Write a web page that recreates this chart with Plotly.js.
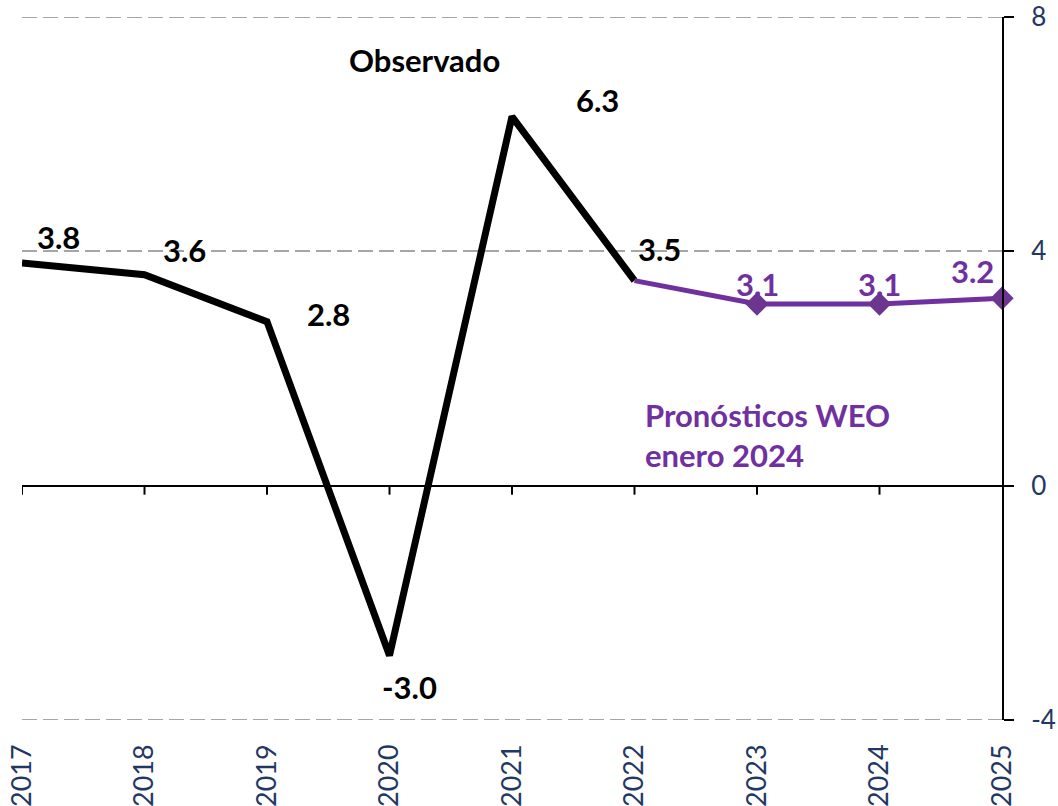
<!DOCTYPE html>
<html><head><meta charset="utf-8">
<script src="https://cdn.plot.ly/plotly-3.0.1.min.js"></script>
<style>html,body{margin:0;padding:0;background:#fff}#chart{width:1058px;height:806px}</style>
</head><body><div id="chart"></div>
<script>
const years = ["2017","2018","2019","2020","2021","2022","2023","2024","2025"];
const observedYears = ["2017","2018","2019","2020","2021","2022"];
const observedValues = [3.8, 3.6, 2.8, -2.9, 6.3, 3.5];
const observedLabels = ["3.8","3.6","2.8","-3.0","6.3","3.5"];
const forecastYears = ["2022","2023","2024","2025"];
const forecastValues = [3.5, 3.1, 3.1, 3.2];
const forecastLabels = ["","3.1","3.1","3.2"];
const yTicks = [-4, 0, 4, 8];

const purple = "#7030a0";
const labelFont = "Lato, 'Open Sans', sans-serif";
const labelSize = 31;
const gridDash = "15px,6px";

const obsShift = [[36,26],[40,25],[61,8],[20,-31],[85,17],[25,32]];
const fcShift = [[0,0],[0,20],[0,20],[-30,27]];

const annotations = [];
observedYears.forEach((yr,i)=>{
  annotations.push({x:years.indexOf(yr), y:observedValues[i], xref:'x', yref:'y', text:'<b>'+observedLabels[i]+'</b>',
    showarrow:false, xshift:obsShift[i][0], yshift:obsShift[i][1], font:{family:labelFont,size:labelSize,color:'#000'}});
});
forecastYears.forEach((yr,i)=>{
  if(!forecastLabels[i]) return;
  annotations.push({x:years.indexOf(yr), y:forecastValues[i], xref:'x', yref:'y', text:'<b>'+forecastLabels[i]+'</b>',
    showarrow:false, xshift:fcShift[i][0], yshift:fcShift[i][1], font:{family:labelFont,size:labelSize,color:purple}});
});
annotations.push({x:0.411, y:0.939, xref:'paper', yref:'paper', xanchor:'center', yanchor:'middle',
  text:'<b>Observado</b>', showarrow:false, font:{family:labelFont,size:labelSize,color:'#000'}});
annotations.push({x:0.634, y:0.405, xref:'paper', yref:'paper', xanchor:'left', yanchor:'middle', align:'left',
  text:'<b>Pronósticos WEO<br>enero 2024</b>', showarrow:false,
  font:{family:labelFont,size:labelSize,color:purple}});

const shapes = [];
years.slice(0,8).forEach((yr,i)=>{
  shapes.push({type:'line', xref:'x', yref:'y', x0:i, x1:i,
    ysizemode:'pixel', yanchor:0, y0:0, y1:-9, line:{color:'#000', width:2}});
});
[-4, 8].forEach(v=>{
  shapes.push({type:'line', xref:'paper', yref:'y', x0:0, x1:1, y0:v, y1:v, layer:'below',
    line:{color:'#a6a6a6', width:2, dash:gridDash}});
});

const traces = [
  {x:observedYears, y:observedValues, type:'scatter', mode:'lines', line:{color:'#000', width:7}, hoverinfo:'skip', cliponaxis:false},
  {x:forecastYears, y:forecastValues, type:'scatter', mode:'lines', line:{color:purple, width:5}, hoverinfo:'skip', cliponaxis:false},
  {x:forecastYears.slice(1), y:forecastValues.slice(1), type:'scatter', mode:'markers',
    marker:{symbol:'diamond', size:18, color:'#6b3590'}, hoverinfo:'skip', cliponaxis:false}
];

const layout = {
  width:1058, height:806,
  margin:{l:22, r:56, t:17, b:86},
  paper_bgcolor:'#fff', plot_bgcolor:'#fff',
  showlegend:false,
  xaxis:{type:'category', categoryorder:'array', categoryarray:years, range:[0,8], showgrid:false, zeroline:false, showline:false,
    ticks:'', tickangle:-90, ticklabelstandoff:18, tickfont:{family:labelFont, size:27, color:'#1f3864'}},
  yaxis:{side:'right', range:[-4,8], tickvals:yTicks, ticktext:yTicks.map(String),
    showgrid:true, gridcolor:'#a6a6a6', gridwidth:2, griddash:gridDash,
    zeroline:true, zerolinecolor:'#000', zerolinewidth:2,
    showline:true, linecolor:'#000', linewidth:2, ticks:'outside', ticklen:10, tickcolor:'#000', tickwidth:2,
    ticklabelstandoff:12, ticklabeloverflow:'allow', tickfont:{family:labelFont, size:26, color:'#1f3864'}},
  annotations:annotations,
  shapes:shapes
};
Plotly.newPlot('chart', traces, layout, {staticPlot:true});
</script></body></html>
